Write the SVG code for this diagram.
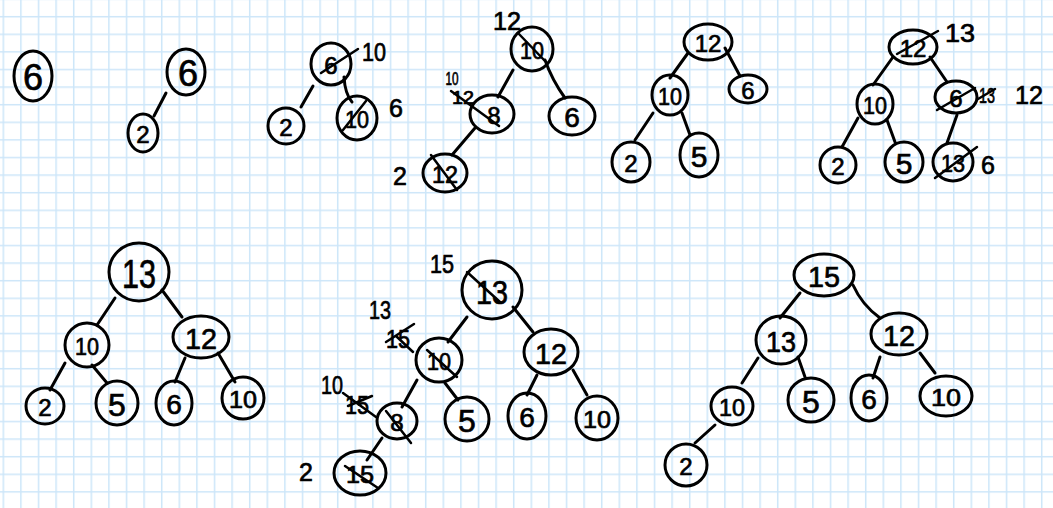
<svg xmlns="http://www.w3.org/2000/svg" width="1053" height="508" viewBox="0 0 1053 508">
<defs>
<pattern id="grid" patternUnits="userSpaceOnUse" x="2.55" y="15.95" width="17.6" height="17.6">
<path d="M0.75 0V17.6M0 0.75H17.6" stroke="#cde6f9" stroke-width="1.5" fill="none"/>
</pattern>
<style>
.n{fill:none;stroke:#000;stroke-width:3}
.e{fill:none;stroke:#000;stroke-width:3;stroke-linecap:round}
.s{fill:none;stroke:#000;stroke-width:2.5;stroke-linecap:round}
text{font-family:"Liberation Sans","DejaVu Sans",sans-serif;fill:#000;stroke:#000;stroke-width:0.7;text-anchor:middle;dominant-baseline:central;font-size:24px}
.l{font-size:25px}
.b{font-size:28px}
.m{font-size:18px}
</style>
</defs>
<rect width="1053" height="508" fill="#fff"/>
<rect width="1053" height="508" fill="url(#grid)"/>

<g id="connectors">
<path class="e" d="M166 93L154 116"/>
<path class="e" d="M313 86L301 107"/>
<path class="e" d="M344 77Q345 94 352 102"/>
<path class="e" d="M513 70L498 97"/>
<path class="e" d="M545 60Q552 80 565 98"/>
<path class="e" d="M475 128L452 155"/>
<path class="e" d="M688 53L670 78"/>
<path class="e" d="M725 48L740 76"/>
<path class="e" d="M653 113L635 140"/>
<path class="e" d="M682 113L690 135"/>
<path class="e" d="M893 57L873 85"/>
<path class="e" d="M930 57L947 82"/>
<path class="e" d="M858 118L842 147"/>
<path class="e" d="M887 120L895 142"/>
<path class="e" d="M957 115L947 143"/>
<path class="e" d="M115 298L97 325"/>
<path class="e" d="M162 290L182 317"/>
<path class="e" d="M65 363L50 390"/>
<path class="e" d="M92 365L107 383"/>
<path class="e" d="M185 358L175 382"/>
<path class="e" d="M218 353L235 382"/>
<path class="e" d="M467 317L448 342"/>
<path class="e" d="M513 307L533 332"/>
<path class="e" d="M417 380L402 407"/>
<path class="e" d="M445 383L458 400"/>
<path class="e" d="M537 375L527 395"/>
<path class="e" d="M573 370L587 395"/>
<path class="e" d="M382 438L367 460"/>
<path class="e" d="M800 293L780 318"/>
<path class="e" d="M853 285Q862 305 880 318"/>
<path class="e" d="M758 358L742 383"/>
<path class="e" d="M798 357L805 377"/>
<path class="e" d="M880 357L873 378"/>
<path class="e" d="M920 353L935 373"/>
<path class="e" d="M715 425L695 443"/>
</g>

<g id="t1-6"><ellipse class="n" cx="33" cy="76" rx="19" ry="25"/><text x="33" y="77" style="font-size:36px">6</text></g>

<g id="t2-6"><ellipse class="n" cx="186" cy="72" rx="19" ry="23"/><text x="188" y="73" style="font-size:36px">6</text></g>
<g id="t2-2"><ellipse class="n" cx="143" cy="133" rx="15" ry="19"/><text x="143" y="134">2</text></g>

<g id="t3-root"><ellipse class="n" cx="331" cy="64" rx="20" ry="21"/><text x="331" y="65">6</text><path class="s" d="M321 73L358 49"/><text class="l" x="374" y="52" textLength="24" lengthAdjust="spacingAndGlyphs">10</text></g>
<g id="t3-2"><ellipse class="n" cx="286" cy="126" rx="18" ry="18"/><text x="286" y="127">2</text></g>
<g id="t3-r"><ellipse class="n" cx="357" cy="118" rx="20" ry="22"/><text x="357" y="119" textLength="24" lengthAdjust="spacingAndGlyphs">10</text><path class="s" d="M343 130L366 101"/><text class="l" x="396" y="108">6</text></g>

<g id="t4-root"><ellipse class="n" cx="532" cy="49" rx="21" ry="22"/><text x="532" y="50" textLength="24" lengthAdjust="spacingAndGlyphs">10</text><path class="s" d="M518 33L545 61"/><text class="l" x="507" y="21" textLength="28" lengthAdjust="spacingAndGlyphs">12</text></g>
<g id="t4-8"><ellipse class="n" cx="492" cy="114" rx="22" ry="19"/><text x="494" y="115">8</text><text class="m" x="452" y="79" textLength="13" lengthAdjust="spacingAndGlyphs">10</text><text class="m" x="463" y="98" textLength="22" lengthAdjust="spacingAndGlyphs">12</text><path class="s" d="M451 91L499 126"/></g>
<g id="t4-6"><ellipse class="n" cx="572" cy="116" rx="23" ry="19"/><text x="572" y="117" class="b">6</text></g>
<g id="t4-12"><ellipse class="n" cx="445" cy="173" rx="22" ry="19"/><text x="445" y="174" textLength="26" lengthAdjust="spacingAndGlyphs">12</text><path class="s" d="M431 155L457 190"/><text class="l" x="400" y="176">2</text></g>

<g id="t5-12"><ellipse class="n" cx="708" cy="42" rx="24" ry="18"/><text x="708" y="43">12</text></g>
<g id="t5-10"><ellipse class="n" cx="670" cy="95" rx="18" ry="20"/><text x="670" y="96" textLength="24" lengthAdjust="spacingAndGlyphs">10</text></g>
<g id="t5-6"><ellipse class="n" cx="748" cy="89" rx="19" ry="14"/><text x="748" y="90">6</text></g>
<g id="t5-2"><ellipse class="n" cx="631" cy="162" rx="19" ry="20"/><text x="631" y="163">2</text></g>
<g id="t5-5"><ellipse class="n" cx="699" cy="155" rx="19" ry="22"/><text x="699" y="156" style="font-size:30px">5</text></g>

<g id="t6-root"><ellipse class="n" cx="913" cy="47" rx="24" ry="17"/><text x="913" y="48">12</text><path class="s" d="M897 54L938 31"/><text class="l" x="960" y="33" textLength="30" lengthAdjust="spacingAndGlyphs">13</text></g>
<g id="t6-10"><ellipse class="n" cx="875" cy="104" rx="18" ry="20"/><text x="875" y="105" textLength="24" lengthAdjust="spacingAndGlyphs">10</text></g>
<g id="t6-6"><ellipse class="n" cx="956" cy="97" rx="21" ry="16"/><text x="956" y="98">6</text><path class="s" d="M937 110L975 88"/><text x="987" y="95" style="font-size:22px" textLength="16" lengthAdjust="spacingAndGlyphs">13</text><path class="s" d="M978 99L995 89"/><text class="l" x="1029" y="95" textLength="28" lengthAdjust="spacingAndGlyphs">12</text></g>
<g id="t6-2"><ellipse class="n" cx="838" cy="165" rx="18" ry="18"/><text x="838" y="166">2</text></g>
<g id="t6-5"><ellipse class="n" cx="904" cy="162" rx="19" ry="20"/><text x="904" y="163" style="font-size:30px">5</text></g>
<g id="t6-13"><ellipse class="n" cx="953" cy="162" rx="20" ry="19"/><text x="953" y="163" textLength="24" lengthAdjust="spacingAndGlyphs">13</text><path class="s" d="M935 178L977 147"/><text class="l" x="988" y="165">6</text></g>

<g id="t7-13"><ellipse class="n" cx="139" cy="272" rx="30" ry="29"/><text x="139" y="274" style="font-size:40px" textLength="34" lengthAdjust="spacingAndGlyphs">13</text></g>
<g id="t7-10"><ellipse class="n" cx="87" cy="345" rx="22" ry="22"/><text x="87" y="346" textLength="24" lengthAdjust="spacingAndGlyphs">10</text></g>
<g id="t7-12"><ellipse class="n" cx="201" cy="337" rx="28" ry="21"/><text x="201" y="338" style="font-size:30px" textLength="32" lengthAdjust="spacingAndGlyphs">12</text></g>
<g id="t7-2"><ellipse class="n" cx="45" cy="406" rx="19" ry="18"/><text x="45" y="407">2</text></g>
<g id="t7-5"><ellipse class="n" cx="117" cy="403" rx="21" ry="22"/><text x="117" y="405" style="font-size:32px">5</text></g>
<g id="t7-6"><ellipse class="n" cx="174" cy="403" rx="18" ry="22"/><text x="174" y="404" class="b">6</text></g>
<g id="t7-10b"><ellipse class="n" cx="243" cy="398" rx="21" ry="21"/><text x="243" y="399" textLength="28" lengthAdjust="spacingAndGlyphs">10</text></g>

<g id="t8-root"><ellipse class="n" cx="492" cy="290" rx="30" ry="29"/><text x="492" y="292" style="font-size:34px" textLength="32" lengthAdjust="spacingAndGlyphs">13</text><path class="s" d="M467 272L500 302"/><text class="l" x="442" y="264" textLength="24" lengthAdjust="spacingAndGlyphs">15</text></g>
<g id="t8-10"><ellipse class="n" cx="439" cy="360" rx="23" ry="22"/><text x="439" y="361" textLength="24" lengthAdjust="spacingAndGlyphs">10</text><path class="s" d="M427 350L457 377"/><text class="l" x="380" y="310" textLength="22" lengthAdjust="spacingAndGlyphs">13</text><text class="l" x="398" y="339" textLength="24" lengthAdjust="spacingAndGlyphs">15</text><path class="s" d="M386 342L414 324M396 336L413 352"/></g>
<g id="t8-12"><ellipse class="n" cx="551" cy="352" rx="27" ry="23"/><text x="551" y="353" style="font-size:30px" textLength="32" lengthAdjust="spacingAndGlyphs">12</text></g>
<g id="t8-8"><ellipse class="n" cx="397" cy="421" rx="20" ry="18"/><text x="397" y="422">8</text><path class="s" d="M386 411L411 443"/><text class="l" x="332" y="385" textLength="22" lengthAdjust="spacingAndGlyphs">10</text><text class="l" x="357" y="405" textLength="24" lengthAdjust="spacingAndGlyphs">15</text><path class="s" d="M343 393L376 417M348 406L372 396"/></g>
<g id="t8-5"><ellipse class="n" cx="467" cy="419" rx="22" ry="22"/><text x="467" y="421" style="font-size:32px">5</text></g>
<g id="t8-6"><ellipse class="n" cx="527" cy="416" rx="19" ry="23"/><text x="527" y="417" class="b">6</text></g>
<g id="t8-10b"><ellipse class="n" cx="597" cy="418" rx="21" ry="22"/><text x="597" y="419" textLength="28" lengthAdjust="spacingAndGlyphs">10</text></g>
<g id="t8-15"><ellipse class="n" cx="360" cy="473" rx="26" ry="22"/><text x="360" y="474" textLength="28" lengthAdjust="spacingAndGlyphs">15</text><path class="s" d="M345 466L378 488"/><text class="l" x="306" y="472">2</text></g>

<g id="t9-15"><ellipse class="n" cx="824" cy="275" rx="30" ry="21"/><text x="824" y="276" style="font-size:30px" textLength="32" lengthAdjust="spacingAndGlyphs">15</text></g>
<g id="t9-13"><ellipse class="n" cx="781" cy="340" rx="25" ry="24"/><text x="781" y="341" style="font-size:30px" textLength="30" lengthAdjust="spacingAndGlyphs">13</text></g>
<g id="t9-12"><ellipse class="n" cx="899" cy="334" rx="28" ry="21"/><text x="899" y="335" style="font-size:30px" textLength="32" lengthAdjust="spacingAndGlyphs">12</text></g>
<g id="t9-10"><ellipse class="n" cx="732" cy="406" rx="21" ry="19"/><text x="732" y="407" textLength="26" lengthAdjust="spacingAndGlyphs">10</text></g>
<g id="t9-5"><ellipse class="n" cx="811" cy="400" rx="23" ry="22"/><text x="811" y="402" style="font-size:32px">5</text></g>
<g id="t9-6"><ellipse class="n" cx="869" cy="398" rx="18" ry="23"/><text x="869" y="399" class="b">6</text></g>
<g id="t9-10b"><ellipse class="n" cx="946" cy="396" rx="26" ry="20"/><text x="946" y="397" textLength="30" lengthAdjust="spacingAndGlyphs">10</text></g>
<g id="t9-2"><ellipse class="n" cx="686" cy="465" rx="21" ry="21"/><text x="686" y="466">2</text></g>
</svg>
